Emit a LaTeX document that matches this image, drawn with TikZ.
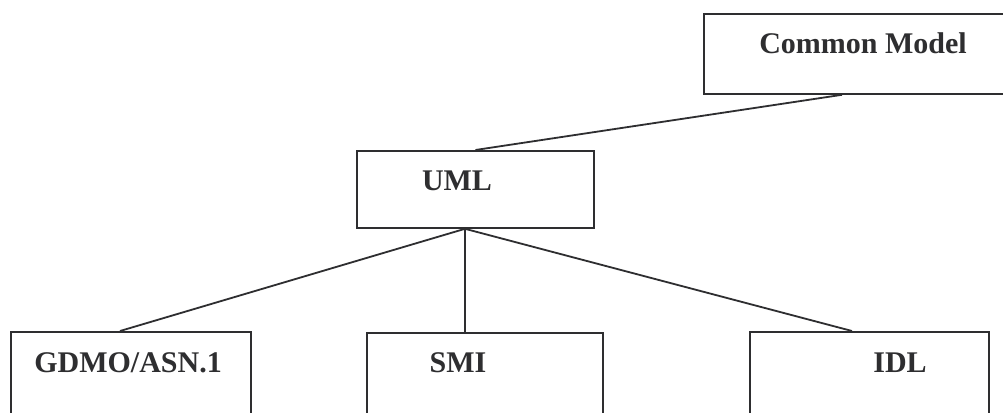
\documentclass[tikz,border=0pt]{standalone}
\usepackage{fontspec}
\setmainfont{Liberation Serif}
\begin{document}
\begin{tikzpicture}[x=1pt,y=-1pt,
  box/.style={draw=ink,line width=1.8pt,rectangle,inner sep=0pt,anchor=north west},
  lbl/.style={font=\fontsize{30}{36}\selectfont\bfseries,text=ink,anchor=base,inner sep=0pt},
  link/.style={draw=ink,line width=1.8pt}]
\definecolor{ink}{HTML}{2E2E30}
\useasboundingbox (0,0) rectangle (1003,412);
\clip (0,0) rectangle (1003,412);
\fill[white] (0,0) rectangle (1003,412);
% boxes
\node[box,minimum width=330pt,minimum height=80pt] (cm) at (703,13) {};
\node[box,minimum width=237pt,minimum height=77pt] (uml) at (356,150) {};
\node[box,minimum width=240pt,minimum height=110pt] (gdmo) at (10,331) {};
\node[box,minimum width=236pt,minimum height=110pt] (smi) at (366,332) {};
\node[box,minimum width=239pt,minimum height=110pt] (idl) at (749,331) {};
% labels
\node[lbl] (cmT) at (863,53) {Common Model};
\node[lbl] (umlT) at (457,190) {UML};
\node[lbl] (gdmoT) at (128,372) {GDMO/ASN.1};
\node[lbl] (smiT) at (458,372) {SMI};
\node[lbl] (idlT) at (900,372) {IDL};
% connectors
\draw[link] ([xshift=139pt]cm.south west) -- (uml.north);
\draw[link] ([xshift=109pt]uml.south west) -- ([xshift=110pt]gdmo.north west);
\draw[link] ([xshift=109pt]uml.south west) -- ([xshift=99pt]smi.north west);
\draw[link] ([xshift=109pt]uml.south west) -- ([xshift=103pt]idl.north west);
\end{tikzpicture}
\end{document}
